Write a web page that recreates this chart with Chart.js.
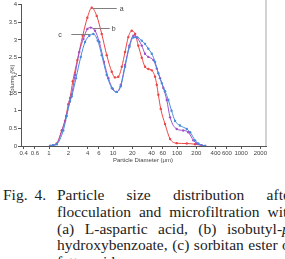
<!DOCTYPE html>
<html>
<head>
<meta charset="utf-8">
<script src="https://cdn.jsdelivr.net/npm/chart.js@4.4.1/dist/chart.umd.min.js"></script>
<style>
  html, body { margin: 0; padding: 0; background: #fff; }
  body { width: 285px; height: 259px; position: relative; overflow: hidden; }
  #chart { position: absolute; left: 0; top: 0; }
  .cap { position: absolute; font-family: "Liberation Serif", serif; font-size: 15.5px; line-height: 17px; color: #222; white-space: nowrap; }
  .line { position: absolute; left: 57px; width: 238px; text-align: justify; text-align-last: justify; white-space: normal; }
</style>
</head>
<body>
<canvas id="chart" width="285" height="175"></canvas>
<div class="cap" style="left:0;top:186px;width:300px;height:80px;">
  <div style="position:absolute;left:3px;top:0;word-spacing:3px;">Fig. 4.</div>
  <div class="line" style="top:0;">Particle size distribution after</div>
  <div class="line" style="top:16.8px;">flocculation and microfiltration with</div>
  <div class="line" style="top:33.6px;">(a) L-aspartic acid, (b) isobutyl-<i>p</i>-</div>
  <div class="line" style="top:50.4px;">hydroxybenzoate, (c) sorbitan ester of</div>
  <div class="line" style="top:67.2px;text-align-last:left;">fatty acid.</div>
</div>
<script>
// tick labels of the log x axis
const xTicks = [0.4, 0.6, 1, 2, 4, 6, 10, 20, 40, 60, 100, 200, 400, 600, 1000, 2000];

// (a) L-aspartic acid
const aDiam = [1.04, 1.15, 1.32, 1.58, 1.78, 2.0, 2.13, 2.35, 2.77, 3.36, 3.97, 4.65, 5.56, 6.66, 7.97, 9.55, 10.7, 12.1, 13.7, 15.4, 17.3, 19.6, 22.1, 24.8, 28.1, 31.6, 35.6, 40.3, 45.3, 48.2, 51.0, 55.6, 64.9, 77.8, 98.9, 142, 191, 274];
const aVol = [0, 0.02, 0.07, 0.44, 0.71, 1.18, 1.36, 1.83, 2.43, 3.12, 3.63, 3.91, 3.68, 3.17, 2.57, 2.10, 1.94, 1.96, 2.24, 2.66, 3.08, 3.26, 3.17, 2.84, 2.5, 2.24, 2.18, 2.14, 1.96, 1.73, 1.45, 1.05, 0.62, 0.2, 0.08, 0.07, 0.05, 0];

// (b) isobutyl-p-hydroxybenzoate
const bDiam = [1.04, 1.15, 1.32, 1.6, 1.85, 2.1, 2.26, 2.55, 2.97, 3.44, 3.97, 4.48, 5.23, 6.11, 7.23, 8.45, 9.89, 11.4, 13.2, 15.4, 18.0, 20.8, 23.5, 28.1, 31.6, 35.6, 42.7, 48.2, 54.2, 61.1, 69.0, 77.8, 98.9, 125, 150, 180, 203, 243, 274];
const bVol = [0, 0.02, 0.06, 0.45, 0.85, 1.25, 1.46, 2.01, 2.66, 3.03, 3.31, 3.35, 3.26, 2.94, 2.38, 1.92, 1.62, 1.53, 1.73, 2.29, 2.84, 3.12, 3.07, 2.84, 2.61, 2.52, 2.43, 2.19, 1.92, 1.64, 1.3, 0.81, 0.48, 0.44, 0.39, 0.16, 0.07, 0.02, 0];

// (c) sorbitan ester of fatty acid
const cDiam = [1.04, 1.15, 1.32, 1.67, 1.89, 2.13, 2.26, 2.64, 3.13, 3.65, 4.26, 4.92, 5.77, 6.66, 7.97, 9.55, 11.4, 13.2, 15.4, 18.0, 20.8, 24.0, 28.1, 31.6, 35.6, 40.3, 45.3, 51.0, 57.7, 64.9, 73.1, 82, 93.1, 111, 142, 160, 191, 215, 274];
const cVol = [0, 0.02, 0.05, 0.44, 0.85, 1.27, 1.4, 1.92, 2.52, 2.94, 3.12, 3.17, 2.98, 2.57, 2.01, 1.64, 1.53, 1.69, 2.24, 2.80, 3.07, 3.07, 2.98, 2.89, 2.75, 2.61, 2.38, 2.06, 1.78, 1.55, 1.30, 1.0, 0.71, 0.58, 0.48, 0.39, 0.16, 0.07, 0];

function toPoints(xs, ys) {
    return xs.map((x, i) => ({ x: x, y: ys[i] }));
}

function series(label, xs, ys, color) {
    return {
        label: label,
        data: toPoints(xs, ys),
        borderColor: color,
        backgroundColor: color,
        borderWidth: 1,
        pointRadius: 1.2,
        pointBorderWidth: 0,
        pointBackgroundColor: color,
        cubicInterpolationMode: 'monotone',
        fill: false
    };
}

const axisColor = '#555';
const tickFont = { family: 'Liberation Sans', size: 6 };

// leader lines with the letters a, b, c, the axis titles and the grey right edge
const extras = {
    id: 'extras',
    afterDatasetsDraw(chart) {
        const ctx = chart.ctx;
        const area = chart.chartArea;
        const xs = chart.scales.x, ys = chart.scales.y;
        ctx.save();

        ctx.strokeStyle = '#c4c4c4';
        ctx.lineWidth = 1.5;
        ctx.beginPath();
        ctx.moveTo(area.right, 0);
        ctx.lineTo(area.right, area.bottom);
        ctx.stroke();

        ctx.fillStyle = '#444';
        ctx.font = '6px "Liberation Sans"';
        ctx.textAlign = 'center';
        ctx.textBaseline = 'middle';
        ctx.fillText('Particle Diameter (\u03bcm)', 143, 160);
        ctx.save();
        ctx.translate(12, 80);
        ctx.rotate(-Math.PI / 2);
        ctx.fillText('Volume (%)', 0, 0);
        ctx.restore();

        const marks = [
            { name: 'a', xs: aDiam, ys: aVol, from: 1, to: 25, text: 28 },
            { name: 'b', xs: bDiam, ys: bVol, from: 2, to: 19, text: 21 },
            { name: 'c', xs: cDiam, ys: cVol, from: -3, to: -22, text: -35 }
        ];
        ctx.strokeStyle = '#808080';
        ctx.lineWidth = 1;
        ctx.font = '7px "Liberation Sans"';
        ctx.textAlign = 'left';
        marks.forEach(m => {
            let k = 0;
            m.ys.forEach((v, i) => { if (v > m.ys[k]) k = i; });
            const px = xs.getPixelForValue(m.xs[k]);
            const py = Math.round(ys.getPixelForValue(m.ys[k])) + 0.5;
            ctx.beginPath();
            ctx.moveTo(px + m.from, py);
            ctx.lineTo(px + m.to, py);
            ctx.stroke();
            ctx.fillText(m.name, px + m.text, py + 1);
        });
        ctx.restore();
    }
};

new Chart(document.getElementById('chart'), {
    type: 'line',
    data: {
        datasets: [
            series('c', cDiam, cVol, 'rgb(70, 140, 220)'),
            series('b', bDiam, bVol, 'rgb(160, 80, 200)'),
            series('a', aDiam, aVol, 'rgb(235, 70, 70)')
        ]
    },
    options: {
        responsive: false,
        animation: false,
        devicePixelRatio: 1,
        layout: { padding: { top: 2, right: 19, left: 0, bottom: 0 } },
        plugins: {
            legend: { display: false },
            tooltip: { enabled: false }
        },
        scales: {
            x: {
                type: 'logarithmic',
                min: 0.365,
                max: 2450,
                afterBuildTicks: (scale) => {
                    scale.ticks = xTicks.map(v => ({ value: v }));
                },
                afterFit: (scale) => { scale.height = 29; },
                ticks: {
                    autoSkip: false,
                    maxRotation: 0,
                    padding: 1,
                    color: '#444',
                    font: tickFont,
                    callback: (v) => String(v)
                },
                grid: { drawOnChartArea: false, tickLength: 3, color: axisColor },
                border: { color: axisColor }
            },
            y: {
                min: 0,
                max: 4,
                afterFit: (scale) => { scale.width = 21; },
                ticks: {
                    stepSize: 0.5,
                    padding: 1,
                    color: '#444',
                    font: tickFont,
                    callback: (v) => String(v)
                },
                grid: { drawOnChartArea: false, tickLength: 3, color: axisColor },
                border: { color: axisColor }
            }
        }
    },
    plugins: [extras]
});
</script>
</body>
</html>
